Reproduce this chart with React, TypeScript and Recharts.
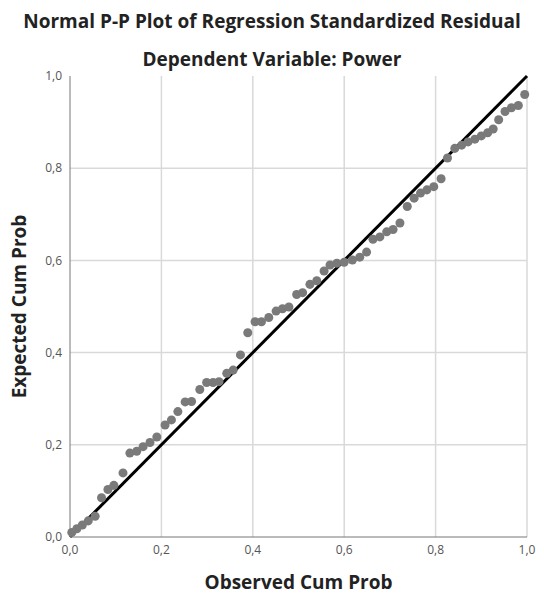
import { ScatterChart, Scatter, XAxis, YAxis, ZAxis, CartesianGrid, ReferenceLine, Label } from 'recharts';

const observed = [
  0.004, 0.015, 0.027, 0.040, 0.055, 0.069, 0.083, 0.096, 0.116, 0.131,
  0.146, 0.160, 0.175, 0.190, 0.208, 0.222, 0.236, 0.252, 0.266, 0.284,
  0.299, 0.313, 0.326, 0.343, 0.357, 0.373, 0.389, 0.405, 0.419, 0.435,
  0.451, 0.465, 0.479, 0.496, 0.509, 0.525, 0.540, 0.556, 0.569, 0.584,
  0.600, 0.618, 0.634, 0.649, 0.663, 0.678, 0.693, 0.707, 0.722, 0.738,
  0.753, 0.767, 0.781, 0.796, 0.812, 0.826, 0.842, 0.857, 0.871, 0.886,
  0.900, 0.914, 0.926, 0.938, 0.952, 0.966, 0.981, 0.995,
];
const expected = [
  0.010, 0.018, 0.026, 0.035, 0.045, 0.085, 0.103, 0.112, 0.139, 0.182,
  0.186, 0.196, 0.205, 0.217, 0.243, 0.254, 0.272, 0.293, 0.294, 0.320,
  0.335, 0.335, 0.337, 0.355, 0.362, 0.395, 0.443, 0.467, 0.467, 0.476,
  0.490, 0.495, 0.499, 0.526, 0.530, 0.548, 0.556, 0.577, 0.590, 0.594,
  0.596, 0.601, 0.607, 0.618, 0.646, 0.651, 0.662, 0.667, 0.681, 0.717,
  0.735, 0.746, 0.753, 0.760, 0.777, 0.822, 0.843, 0.850, 0.857, 0.863,
  0.870, 0.877, 0.885, 0.905, 0.923, 0.931, 0.936, 0.960,
];
const ticks = [0, 0.2, 0.4, 0.6, 0.8, 1.0];

const points = observed.map((x, i) => ({ x, y: expected[i] }));
const fmt = (v: number) => v.toFixed(1).replace('.', ',');
const font = '"Open Sans", sans-serif';

export default function App() {
  return (
    <div style={{ position: 'absolute', left: 0, top: 0, width: 544, height: 597, background: '#fff', fontFamily: font }}>
      <div style={{ position: 'absolute', left: 0, top: 8, width: 544, textAlign: 'center', fontSize: 19, fontWeight: 700, color: '#222' }}>
        Normal P-P Plot of Regression Standardized Residual
      </div>
      <div style={{ position: 'absolute', left: 0, top: 46, width: 544, textAlign: 'center', fontSize: 19, fontWeight: 700, color: '#222' }}>
        Dependent Variable: Power
      </div>
      <ScatterChart width={544} height={597} margin={{ top: 76, right: 17, bottom: 0, left: 0 }}>
        <CartesianGrid stroke="#d9d9d9" strokeWidth={1.5}
          horizontalValues={[0.2, 0.4, 0.6, 0.8]} verticalValues={[0.2, 0.4, 0.6, 0.8, 1.0]} />
        <XAxis type="number" dataKey="x" domain={[0, 1]} ticks={ticks} tickFormatter={fmt}
          height={60} stroke="#777" tickLine={false} tick={{ fill: '#555', fontSize: 12, fontFamily: font }}>
          <Label value="Observed Cum Prob" position="insideBottom" offset={8}
            style={{ fontSize: 19, fontWeight: 700, fill: '#222', fontFamily: font }} />
        </XAxis>
        <YAxis type="number" dataKey="y" domain={[0, 1]} ticks={ticks} tickFormatter={fmt}
          width={70} stroke="#777" tickLine={false} tick={{ fill: '#555', fontSize: 12, fontFamily: font }}>
          <Label value="Expected Cum Prob" angle={-90} position="insideLeft" offset={19}
            style={{ fontSize: 19, fontWeight: 700, fill: '#222', fontFamily: font, textAnchor: 'middle' }} />
        </YAxis>
        <ZAxis range={[66, 66]} />
        <Scatter data={points} fill="#7a7a7a" isAnimationActive={false} />
        <ReferenceLine segment={[{ x: 0, y: 0 }, { x: 1, y: 1 }]} stroke="#000" strokeWidth={3} />
      </ScatterChart>
    </div>
  );
}
